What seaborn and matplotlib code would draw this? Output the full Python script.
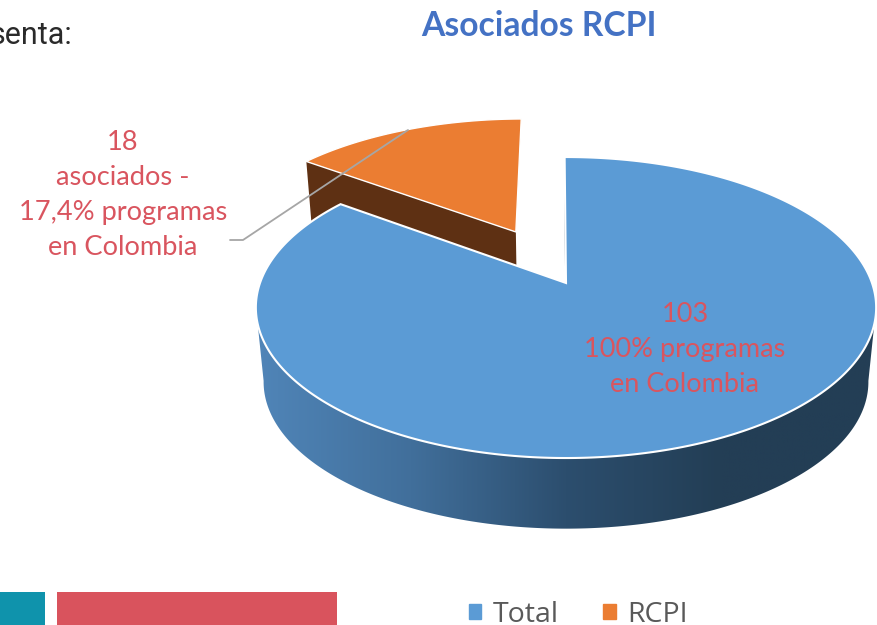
import numpy as np
import matplotlib
matplotlib.use("Agg")
import matplotlib.pyplot as plt
from matplotlib.colors import LinearSegmentedColormap
from matplotlib.patches import Patch, Polygon, Rectangle
import seaborn as sns

# Datos del grafico
categorias = ['Total', 'RCPI']
valores = [103, 18]
etiqueta_total = '103\n100% programas\nen Colombia'
etiqueta_rcpi = '18\nasociados -\n17,4% programas\nen Colombia'

sns.set_theme(style="white")
plt.rcParams['font.family'] = ['Lato', 'DejaVu Sans']
colores = sns.color_palette(['#5b9bd5', '#eb7d32'])
lateral = LinearSegmentedColormap.from_list('lateral', ['#5085b8', '#416f9b', '#2c4e6e', '#233e55', '#233e55'])

# Parametros de la vista 3D
CX, CY = 566, 283
A, B, K = 146.5, 306, 0.163
PROF, ESC = 75, 0.975
GIRO = -0.3
EXPLOTA = 0.415


def proyectar(x, y, abajo=False):
    d = 1 + K * y
    X, Y = B * x / d, A * y / d
    if abajo:
        return CX + X * ESC, CY - Y * ESC + PROF
    return CX + X, CY - Y


def arco(a0, a1, dx=0, dy=0, n=200):
    t = np.radians(np.linspace(a0, a1, n))
    return np.sin(t) + dx, np.cos(t) + dy


fig = plt.figure(figsize=(8.78, 6.25), dpi=100)
ax = fig.add_axes([0, 0, 1, 1])
ax.axis('off')

ang_rcpi = 360 * valores[1] / sum(valores)
ini_total, fin_total = GIRO, GIRO + 360 - ang_rcpi
ini_rcpi, fin_rcpi = fin_total, GIRO + 360

# Porcion RCPI separada
medio = np.radians((ini_rcpi + fin_rcpi) / 2)
ex, ey = 0.92 * EXPLOTA * np.sin(medio), EXPLOTA * np.cos(medio)
xr, yr = arco(ini_rcpi, fin_rcpi, ex, ey)
bx0, by0 = proyectar(ex, ey)
bx1, by1 = proyectar(xr[0], yr[0])
ax0, ay0 = proyectar(ex, ey, True)
ax1, ay1 = proyectar(xr[0], yr[0], True)
ax.fill([bx0, bx1, ax1, ax0], [by0, by1, ay1, ay0], color='#5e3013', lw=0)
px, py = proyectar(xr, yr)
ax.fill(np.r_[bx0, px], np.r_[by0, py], facecolor=colores[1], edgecolor='white', lw=1)

# Pared lateral de la porcion Total, con degradado recortado al contorno
xf, yf = arco(99, 261, n=400)
tx, ty = proyectar(xf, yf)
ux, uy = proyectar(xf, yf, True)
pared = Polygon(np.c_[np.r_[tx, ux[::-1]], np.r_[ty, uy[::-1]]], closed=True, transform=ax.transData, fc='none', ec='none')
ax.add_patch(pared)
img = ax.imshow(np.linspace(0, 1, 256)[None, :], cmap=lateral, extent=[256, 876, 540, 290], aspect='auto')
img.set_clip_path(pared)

# Cara interna visible de Total
xt, yt = arco(ini_total, fin_total, n=500)
tx, ty = proyectar(xt, yt)
ux, uy = proyectar(xt, yt, True)
ax.fill([CX, tx[0], ux[0], CX], [CY, ty[0], uy[0], CY + PROF], color='#2a4a66', lw=0)

# Cara superior de Total
ax.fill(np.r_[CX, tx], np.r_[CY, ty], facecolor=colores[0], edgecolor='white', lw=1.5)

# Linea guia
ax.plot([230, 243, 408], [240, 240, 130], color='#a6a6a6', lw=1.3)

ax.text(123, 195, etiqueta_rcpi, color='#d9555f', fontsize=19.6, ha='center', va='center', linespacing=1.5)
ax.text(685, 350, etiqueta_total, color='#d9555f', fontsize=19.5, ha='center', va='center', linespacing=1.5)
ax.text(539, 26, 'Asociados RCPI', color='#4472c4', fontsize=24.2, fontweight='bold', ha='center', va='center')
ax.text(72, 36, 'senta:', color='#2a2a2a', fontsize=22, ha='right', va='center', family=['Roboto'])

# Restos del documento
ax.add_patch(Rectangle((0, 592), 45, 33, color='#0f93ac', lw=0))
ax.add_patch(Rectangle((57, 592), 280, 33, color='#d9535d', lw=0))

ax.set_xlim(0, 878)
ax.set_ylim(625, 0)

# Leyenda
marcas = [Patch(color=colores[i], label=categorias[i]) for i in range(2)]
ley = ax.legend(handles=marcas, ncol=2, frameon=False, loc='center', bbox_to_anchor=(578.5 / 878, 1 - 615 / 625),
                bbox_transform=ax.transAxes, handlelength=0.43, handleheight=0.43, handletextpad=0.42,
                columnspacing=1.55, prop={'family': 'Open Sans', 'size': 20.5})
for t in ley.get_texts():
    t.set_color('#595959')

fig.savefig('out.png', dpi=100)
